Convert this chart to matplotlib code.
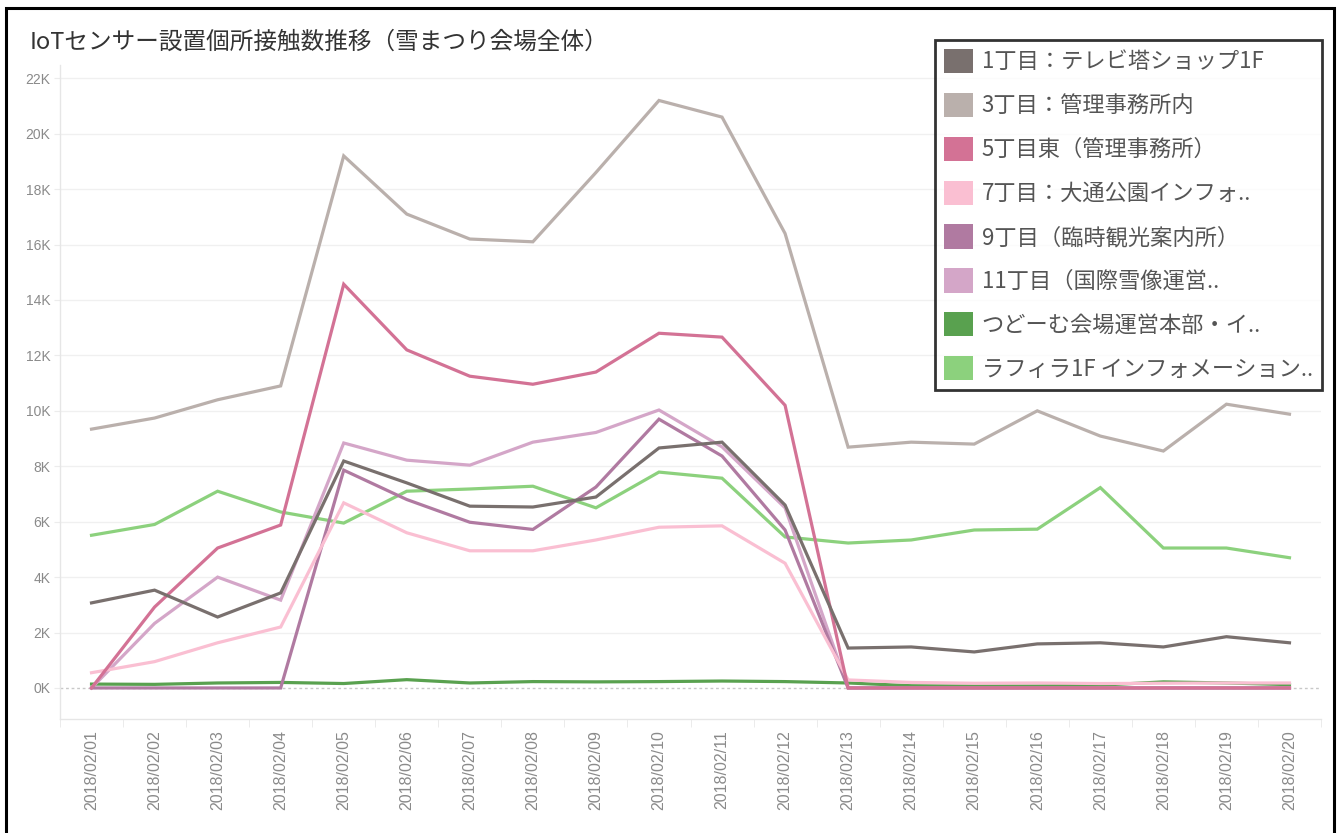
"""
IoTセンサー設置個所接触数推移（雪まつり会場全体）
"""
import matplotlib
matplotlib.use('Agg')
import matplotlib.pyplot as plt
from matplotlib.patches import Patch, Rectangle
from matplotlib.ticker import FixedLocator, FuncFormatter

plt.rcParams['font.family'] = ['Noto Sans CJK JP', 'DejaVu Sans']

dates = ['2018/02/%02d' % d for d in range(1, 21)]

series_names = [
    '1丁目：テレビ塔ショップ1F',
    '3丁目：管理事務所内',
    '5丁目東（管理事務所）',
    '7丁目：大通公園インフォ..',
    '9丁目（臨時観光案内所）',
    '11丁目（国際雪像運営..',
    'つどーむ会場運営本部・イ..',
    'ラフィラ1F インフォメーション..',
]
colors = ['#79706E', '#BAB0AC', '#D37295', '#FABFD2',
          '#B07AA1', '#D4A6C8', '#59A14F', '#8CD17D']

chome1 = [3070, 3530, 2560, 3430, 8190, 7400, 6560, 6530, 6890, 8660,
          8870, 6600, 1440, 1480, 1300, 1590, 1630, 1480, 1850, 1630]
chome3 = [9340, 9740, 10400, 10900, 19200, 17100, 16200, 16100, 18600, 21200,
          20600, 16400, 8690, 8870, 8800, 10000, 9090, 8550, 10240, 9880]
chome5 = [0, 2920, 5050, 5880, 14570, 12200, 11250, 10960, 11400, 12800,
          12660, 10200, 0, 0, 0, 0, 0, 0, 0, 0]
chome7 = [550, 950, 1630, 2200, 6680, 5600, 4950, 4950, 5340, 5800,
          5850, 4500, 290, 200, 170, 180, 160, 170, 180, 180]
chome9 = [0, 0, 0, 0, 7860, 6800, 5980, 5720, 7250, 9700,
          8370, 5700, 0, 0, 0, 0, 0, 0, 0, 0]
chome11 = [0, 2330, 4000, 3170, 8840, 8220, 8040, 8870, 9220, 10030,
           8700, 6500, 0, 0, 0, 0, 0, 0, 0, 0]
tsudome = [140, 130, 180, 200, 160, 300, 180, 230, 220, 230,
           250, 230, 180, 80, 70, 70, 100, 220, 180, 120]
rafira = [5510, 5900, 7100, 6350, 5950, 7100, 7180, 7280, 6500, 7790,
          7570, 5450, 5230, 5340, 5700, 5730, 7230, 5050, 5050, 4700]

all_series = [chome1, chome3, chome5, chome7, chome9, chome11, tsudome, rafira]

fig = plt.figure(figsize=(13.4, 8.33), dpi=100)
ax = fig.add_axes([60 / 1340, 1 - 719 / 833, 1261 / 1340, 654 / 833])

x = list(range(len(dates)))
for i in reversed(range(len(all_series))):
    ax.plot(x, all_series[i], color=colors[i], lw=2.3, zorder=3 + (8 - i) * 0.1,
            solid_joinstyle='miter')

ax.set_xlim(-0.5, len(dates) - 0.5)
ax.set_ylim(-1120, 22480)

# grid and axes
yticks = list(range(0, 22001, 2000))
ax.yaxis.set_major_locator(FixedLocator(yticks))
ax.yaxis.set_major_formatter(FuncFormatter(lambda v, p: '%dK' % (v / 1000)))
for v in yticks[1:]:
    ax.axhline(v, color='#f0f0f0', lw=1, zorder=1)
ax.axhline(0, color='#c8c8c8', lw=1, ls=(0, (2, 2)), zorder=2)

ax.set_xticks(x)
ax.set_xticklabels(dates, rotation=90)
ax.set_xticks([i - 0.5 for i in range(len(dates) + 1)], minor=True)
ax.tick_params(axis='x', which='major', length=0, pad=8, labelsize=11.5,
               labelcolor='#8a8a8a')
ax.tick_params(axis='x', which='minor', length=6, color='#e8e8e8')
ax.tick_params(axis='y', length=4, color='#ececec', pad=3, labelsize=10,
               labelcolor='#8a8a8a')
for lab in ax.get_xticklabels() + ax.get_yticklabels():
    lab.set_family(['Liberation Sans', 'DejaVu Sans'])

for side in ['top', 'right']:
    ax.spines[side].set_visible(False)
for side in ['left', 'bottom']:
    ax.spines[side].set_color('#e6e6e6')
    ax.spines[side].set_linewidth(1)

# title
fig.text(30 / 1340, 1 - 42 / 833, 'IoTセンサー設置個所接触数推移（雪まつり会場全体）',
         fontsize=17, color='#333333', va='center', ha='left')

# legend
handles = [Patch(facecolor=c, edgecolor='none') for c in colors]
leg = fig.legend(handles, series_names, loc='upper left',
                 bbox_to_anchor=(935 / 1340, 1 - 40 / 833),
                 bbox_transform=fig.transFigure, borderaxespad=0,
                 fontsize=16, frameon=True, fancybox=False,
                 handlelength=1.3, handleheight=1.3, handletextpad=0.4,
                 labelspacing=0.87, borderpad=0.4)
leg.get_frame().set_edgecolor('black')
leg.get_frame().set_linewidth(2)
for t in leg.get_texts():
    t.set_color('#555555')

# outer frame
fig.patches.append(Rectangle((6 / 1340, -0.02), 1328 / 1340, 1.02 - 8 / 833,
                             transform=fig.transFigure, fill=False,
                             edgecolor='black', lw=2.2))

fig.savefig('out.png', dpi=100)
